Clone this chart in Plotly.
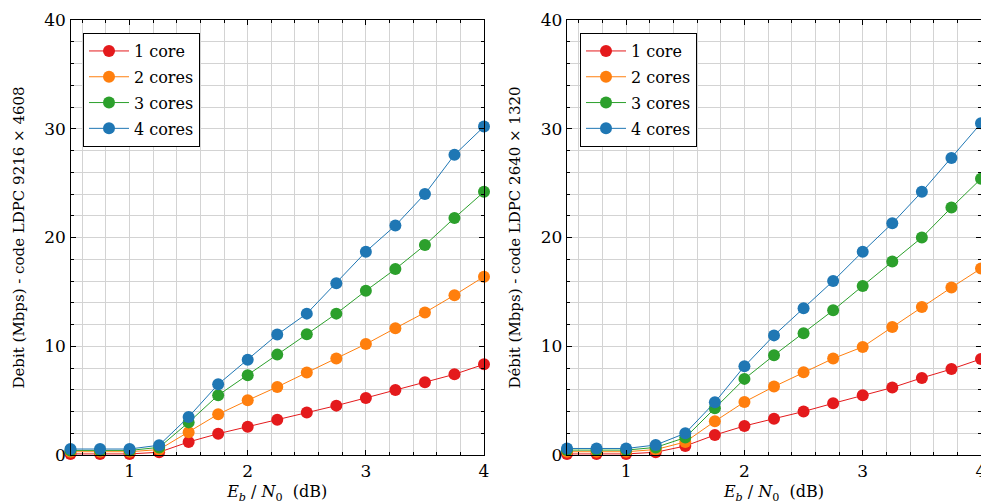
import plotly.graph_objects as go
from plotly.subplots import make_subplots

# Eb/N0 values (dB)
ebn0 = [0.5, 0.75, 1.0, 1.25, 1.5, 1.75, 2.0, 2.25, 2.5, 2.75, 3.0, 3.25, 3.5, 3.75, 4.0]

# code LDPC 9216 x 4608
left_1core = [0.1, 0.1, 0.1, 0.25, 1.2, 1.96, 2.6, 3.25, 3.9, 4.54, 5.25, 5.98, 6.69, 7.42, 8.34]
left_2cores = [0.3, 0.3, 0.3, 0.5, 2.1, 3.75, 5.03, 6.26, 7.58, 8.87, 10.2, 11.66, 13.1, 14.7, 16.4]
left_3cores = [0.42, 0.42, 0.42, 0.7, 3.0, 5.5, 7.33, 9.23, 11.1, 13.0, 15.1, 17.1, 19.3, 21.8, 24.2]
left_4cores = [0.55, 0.55, 0.55, 0.9, 3.5, 6.5, 8.75, 11.07, 13.0, 15.8, 18.7, 21.1, 24.0, 27.6, 30.2]

# code LDPC 2640 x 1320
right_1core = [0.1, 0.1, 0.1, 0.25, 0.83, 1.84, 2.67, 3.34, 4.0, 4.75, 5.5, 6.2, 7.09, 7.9, 8.83]
right_2cores = [0.3, 0.3, 0.3, 0.5, 1.2, 3.1, 4.88, 6.29, 7.6, 8.87, 9.94, 11.78, 13.6, 15.4, 17.15]
right_3cores = [0.45, 0.45, 0.45, 0.7, 1.6, 4.3, 7.0, 9.17, 11.2, 13.3, 15.55, 17.8, 20.0, 22.76, 25.4]
right_4cores = [0.6, 0.6, 0.6, 0.92, 2.0, 4.85, 8.16, 11.0, 13.5, 16.0, 18.7, 21.3, 24.2, 27.3, 30.5]

names = ["1 core", "2 cores", "3 cores", "4 cores"]
colors = ["#e41a1c", "#ff7f0e", "#2ca02c", "#1f77b4"]

FONT = "DejaVu Serif"

fig = make_subplots(rows=1, cols=2)

left = [left_1core, left_2cores, left_3cores, left_4cores]
right = [right_1core, right_2cores, right_3cores, right_4cores]

for col, (series, leg) in enumerate([(left, "legend"), (right, "legend2")], start=1):
    for name, color, ys in zip(names, colors, series):
        fig.add_trace(
            go.Scatter(
                x=ebn0,
                y=ys,
                name=name,
                mode="lines+markers",
                line=dict(color=color, width=1),
                marker=dict(color=color, size=12),
                legend=leg,
                legendgroup=f"{leg}-{name}",  # one group per item -> spacing via tracegroupgap
                cliponaxis=False,
            ),
            row=1,
            col=col,
        )

axis_common = dict(
    showline=True,
    linecolor="black",
    linewidth=1.3,
    mirror="allticks",
    ticks="inside",
    ticklen=5,
    tickcolor="black",
    showgrid=True,
    gridcolor="#d3d3d3",
    gridwidth=1,
    zeroline=False,
    tickfont=dict(family=FONT, size=17, color="black"),
    ticklabeloverflow="allow",
    automargin=False,
)

xtitle = "<i>E</i><sub><i>b</i></sub> / <i>N</i><sub>0</sub>  (dB)"

fig.update_xaxes(
    range=[0.5, 4],
    tickvals=[1, 2, 3, 4],
    minor=dict(dtick=0.2, tick0=0, showgrid=True, gridcolor="#d3d3d3",
               ticks="inside", ticklen=3, tickcolor="black"),
    title=dict(text=xtitle, font=dict(family=FONT, size=16, color="black"), standoff=6),
    **axis_common,
)
fig.update_yaxes(
    range=[0, 40],
    tickvals=[0, 10, 20, 30, 40],
    minor=dict(dtick=2, tick0=0, showgrid=True, gridcolor="#d3d3d3",
               ticks="inside", ticklen=3, tickcolor="black"),
    **axis_common,
)

fig.update_xaxes(domain=[70.5 / 981, 484 / 981], row=1, col=1)
fig.update_xaxes(domain=[567 / 981, 1.0], row=1, col=2)
fig.update_yaxes(
    title=dict(text="Debit (Mbps) - code LDPC 9216 × 4608",
               font=dict(family=FONT, size=15, color="black"), standoff=16),
    row=1, col=1,
)
fig.update_yaxes(
    title=dict(text="Débit (Mbps) - code LDPC 2640 × 1320",
               font=dict(family=FONT, size=15, color="black"), standoff=16),
    row=1, col=2,
)

legend_style = dict(
    xanchor="left",
    yanchor="top",
    bgcolor="white",
    bordercolor="black",
    borderwidth=1,
    font=dict(family=FONT, size=16, color="black"),
    tracegroupgap=2,
    itemwidth=40,
)

fig.update_layout(
    width=981,
    height=504,
    margin=dict(l=0, r=0, t=20, b=49),
    plot_bgcolor="white",
    paper_bgcolor="white",
    showlegend=True,
    legend=dict(x=83 / 981, y=0.97, **legend_style),
    legend2=dict(x=580 / 981, y=0.97, **legend_style),
)

# drop the default 8px body margin so the figure sits at the window's top-left
fig.write_html(
    "out.html",
    config={"displayModeBar": False},
    post_script="document.body.style.margin='0';",
)
